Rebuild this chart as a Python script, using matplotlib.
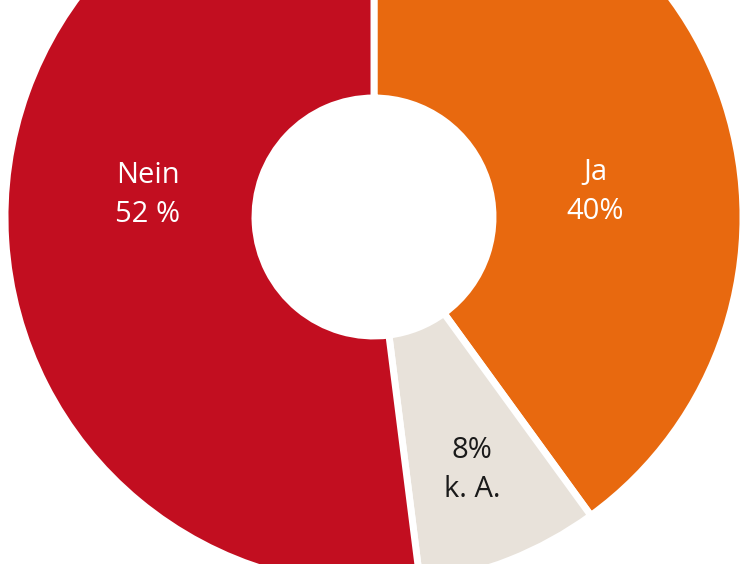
import matplotlib
matplotlib.use("Agg")
import matplotlib.pyplot as plt

categories = ["Ja", "k. A.", "Nein"]
values = [40, 8, 52]
labels = ["Ja\n40%", "8%\nk. A.", "Nein\n52 %"]
colors = ["#E8690F", "#E8E2DA", "#C20E20"]
text_colors = ["white", "#1a1a1a", "white"]
label_pos = [(595, -192), (472, -470), (148, -195)]

fig = plt.figure(figsize=(7.5, 5.64), dpi=100)
ax = fig.add_axes([0, 0, 1, 1])
ax.set_xlim(0, 750)
ax.set_ylim(-564, 0)
ax.axis("off")
ax.pie(values, colors=colors, startangle=90, counterclock=False,
       center=(374, -217), radius=369, frame=True,
       wedgeprops=dict(width=250, edgecolor="white", linewidth=5))
ax.set_xlim(0, 750)
ax.set_ylim(-564, 0)
ax.set_aspect("equal")
ax.axis("off")
for lab, (x, y), tc in zip(labels, label_pos, text_colors):
    ax.text(x, y, lab, ha="center", va="center", color=tc, fontsize=21,
            family="Open Sans", fontweight="medium", linespacing=1.45)
fig.savefig("out.png", dpi=100)
